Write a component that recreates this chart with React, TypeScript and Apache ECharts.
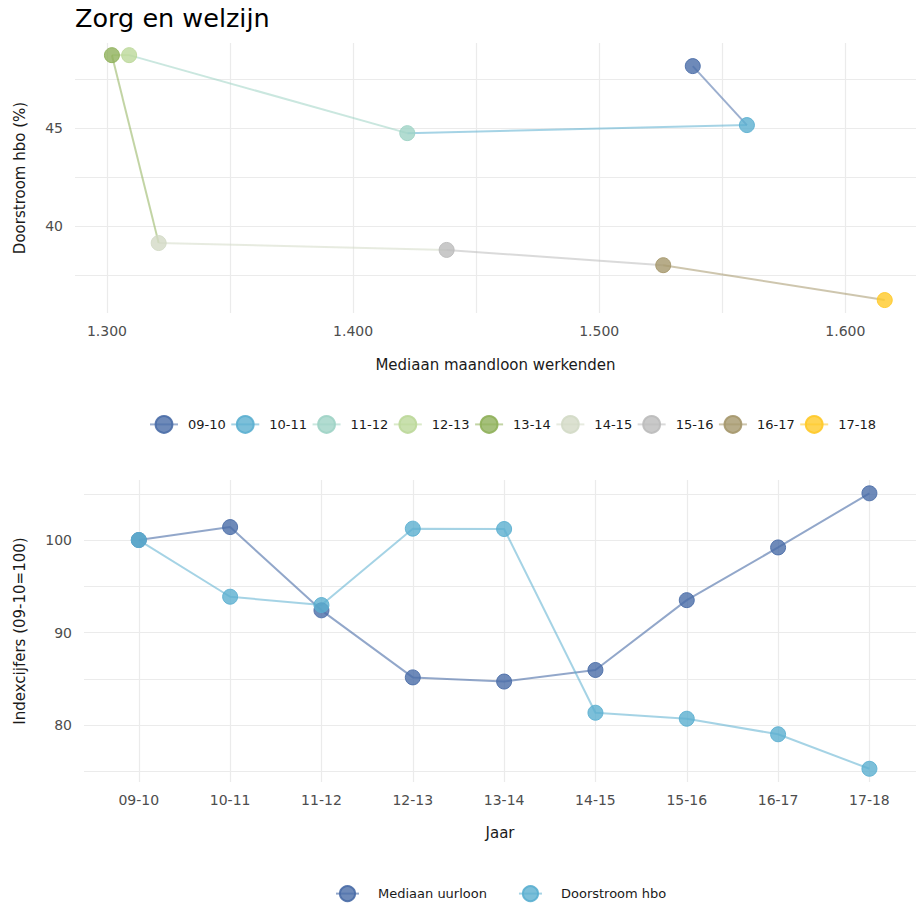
import React, { useEffect, useRef } from "react";
import * as echarts from "echarts";

// ---- Data ----
const years = ["09-10", "10-11", "11-12", "12-13", "13-14", "14-15", "15-16", "16-17", "17-18"];
// Top chart: median monthly wage (x) vs doorstroom hbo % (y)
const maandloon = [1538, 1560, 1422, 1309, 1302, 1321, 1438, 1526, 1616];
const doorstroomPct = [48.16, 45.15, 44.74, 48.72, 48.72, 39.13, 38.78, 38.0, 36.22];
const yearColors = ["#4A6DA7", "#5BAFD0", "#9FD3C5", "#BCD89A", "#8FB05A", "#D3DAC6", "#BBBBBB", "#A5976C", "#FFC928"];
// Bottom chart: index numbers (09-10 = 100)
const indexUurloon = [100, 101.4, 92.4, 85.15, 84.7, 85.95, 93.5, 99.2, 105.05];
const indexDoorstroom = [100, 93.87, 92.97, 101.23, 101.19, 81.33, 80.68, 79.0, 75.27];
const bottomSeriesNames = ["Mediaan uurloon", "Doorstroom hbo"];
const bottomColors = ["#4A6DA7", "#5BAFD0"];
// Tick labels
const topXTickValues = [1300, 1400, 1500, 1600];
const topXTickLabels = ["1.300", "1.400", "1.500", "1.600"];
const topYTickValues = [40, 45];
const topYTickLabels = ["40", "45"];
const bottomYTickValues = [80, 90, 100];
const bottomYTickLabels = ["80", "90", "100"];

const FONT = "DejaVu Sans";
const GRID_COLOR = "#ebebeb";
const TICK_COLOR = "#4d4d4d";
const NAME_COLOR = "#1a1a1a";

function hexA(hex: string, a: number) {
  const n = parseInt(hex.slice(1), 16);
  return `rgba(${(n >> 16) & 255},${(n >> 8) & 255},${n & 255},${a})`;
}

function lookup(values: number[], labels: string[]) {
  return (v: number) => {
    const i = values.findIndex((t) => Math.abs(t - v) < 1e-6);
    return i >= 0 ? labels[i] : "";
  };
}

const splitLine = {
  show: true,
  showMinLine: false,
  showMaxLine: false,
  lineStyle: { color: GRID_COLOR, width: 1.2 },
};

export default function App() {
  const ref = useRef<HTMLDivElement>(null);
  useEffect(() => {
    if (!ref.current) return;
    const chart = echarts.init(ref.current, undefined, { renderer: "svg" });

    const topSeries = years.map((y, i) => {
      const data: any[] = [{ value: [maandloon[i], doorstroomPct[i]] }];
      if (i < years.length - 1) {
        data.push({ value: [maandloon[i + 1], doorstroomPct[i + 1]], symbol: "none" });
      }
      return {
        name: y,
        type: "line",
        xAxisIndex: 0,
        yAxisIndex: 0,
        data,
        symbol: "circle",
        symbolSize: 15,
        lineStyle: { color: hexA(yearColors[i], 0.55), width: 2 },
        itemStyle: {
          color: hexA(yearColors[i], 0.8),
          borderColor: hexA(yearColors[i], 0.9),
          borderWidth: 1,
        },
        emphasis: { disabled: true },
        z: 2,
      };
    });

    const bottomData = [indexUurloon, indexDoorstroom];
    const bottomSeries = bottomSeriesNames.map((name, s) => ({
      name,
      type: "line",
      xAxisIndex: 1,
      yAxisIndex: 1,
      data: bottomData[s].map((v, i) => [i, v]),
      symbol: "circle",
      symbolSize: 15,
      lineStyle: { color: hexA(bottomColors[s], s === 0 ? 0.6 : 0.55), width: 2 },
      itemStyle: {
        color: hexA(bottomColors[s], 0.8),
        borderColor: hexA(bottomColors[s], 0.9),
        borderWidth: 1,
      },
      emphasis: { disabled: true },
    }));

    chart.setOption({
      animation: false,
      backgroundColor: "#ffffff",
      textStyle: { fontFamily: FONT },
      title: {
        text: "Zorg en welzijn",
        left: 75,
        top: 5,
        padding: 0,
        textStyle: { fontFamily: FONT, fontSize: 25.5, fontWeight: "normal", color: "#000000" },
      },
      legend: [
        {
          data: years,
          left: 149,
          top: 415,
          width: 770,
          itemWidth: 28,
          itemHeight: 21,
          itemGap: 4.5,
          padding: 0,
          selectedMode: false,
          textStyle: { fontFamily: FONT, fontSize: 13, color: NAME_COLOR, padding: [0, 0, 0, 5] },
        },
        {
          data: bottomSeriesNames,
          left: 335,
          top: 885,
          itemWidth: 23,
          itemHeight: 19,
          itemGap: 31,
          padding: 0,
          selectedMode: false,
          textStyle: { fontFamily: FONT, fontSize: 13, color: NAME_COLOR, padding: [0, 0, 0, 14] },
        },
      ],
      grid: [
        { left: 75, top: 43, width: 844, height: 270 },
        { left: 84, top: 480, width: 835, height: 302 },
      ],
      xAxis: [
        {
          type: "value",
          gridIndex: 0,
          min: 1287,
          max: 1628.7,
          minInterval: 50,
          maxInterval: 50,
          axisLine: { show: false },
          axisTick: { show: false },
          splitLine,
          axisLabel: {
            margin: 11,
            color: TICK_COLOR,
            fontFamily: FONT,
            fontSize: 14,
            formatter: lookup(topXTickValues, topXTickLabels),
          },
          name: "Mediaan maandloon werkenden",
          nameLocation: "middle",
          nameGap: 44,
          nameTextStyle: { color: NAME_COLOR, fontFamily: FONT, fontSize: 15 },
        },
        {
          type: "value",
          gridIndex: 1,
          min: -0.6,
          max: 8.51,
          minInterval: 1,
          maxInterval: 1,
          axisLine: { show: false },
          axisTick: { show: false },
          splitLine,
          axisLabel: {
            margin: 11,
            color: TICK_COLOR,
            fontFamily: FONT,
            fontSize: 14,
            formatter: (v: number) => (Number.isInteger(v) && years[v] ? years[v] : ""),
          },
          name: "Jaar",
          nameLocation: "middle",
          nameGap: 43,
          nameTextStyle: { color: NAME_COLOR, fontFamily: FONT, fontSize: 15 },
        },
      ],
      yAxis: [
        {
          type: "value",
          gridIndex: 0,
          min: 35.56,
          max: 49.34,
          minInterval: 2.5,
          maxInterval: 2.5,
          axisLine: { show: false },
          axisTick: { show: false },
          splitLine,
          axisLabel: {
            margin: 12,
            color: TICK_COLOR,
            fontFamily: FONT,
            fontSize: 14,
            formatter: lookup(topYTickValues, topYTickLabels),
          },
          name: "Doorstroom hbo (%)",
          nameLocation: "middle",
          nameGap: 48,
          nameTextStyle: { color: NAME_COLOR, fontFamily: FONT, fontSize: 15 },
        },
        {
          type: "value",
          gridIndex: 1,
          min: 73.84,
          max: 106.49,
          minInterval: 5,
          maxInterval: 5,
          axisLine: { show: false },
          axisTick: { show: false },
          splitLine,
          axisLabel: {
            margin: 12,
            color: TICK_COLOR,
            fontFamily: FONT,
            fontSize: 14,
            formatter: lookup(bottomYTickValues, bottomYTickLabels),
          },
          name: "Indexcijfers (09-10=100)",
          nameLocation: "middle",
          nameGap: 57,
          nameTextStyle: { color: NAME_COLOR, fontFamily: FONT, fontSize: 15 },
        },
      ],
      series: [...topSeries, ...bottomSeries],
    });

    return () => chart.dispose();
  }, []);

  return (
    <div
      ref={ref}
      style={{ position: "absolute", left: 0, top: 0, width: 919, height: 909, background: "#fff" }}
    />
  );
}
